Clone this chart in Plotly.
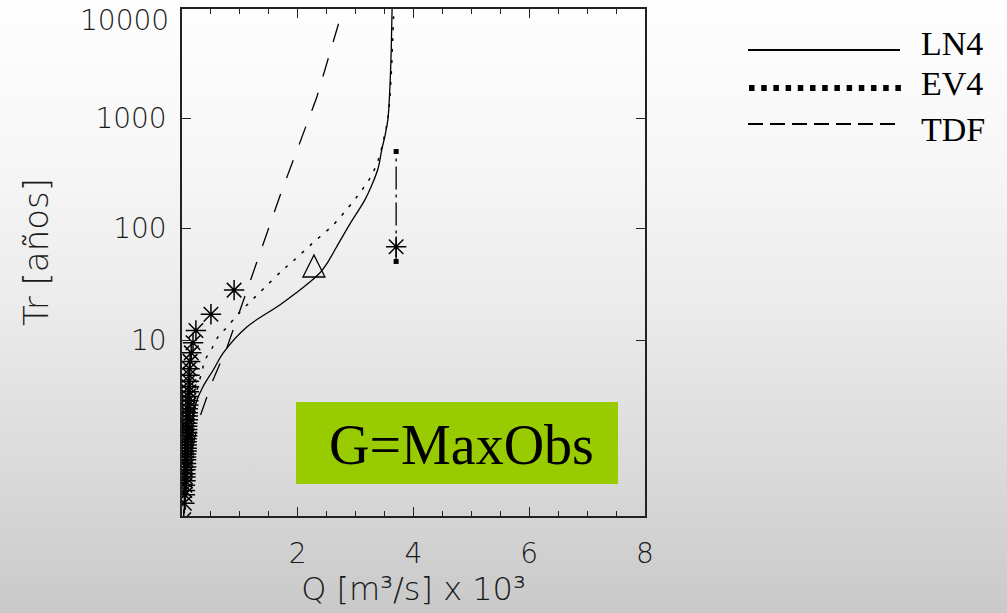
import base64
import numpy as np
import plotly.graph_objects as go

# ---------------- data (Q in 10^3 m3/s, Tr in years) ----------------
ln4_T = [1.024, 1.25, 1.99, 3.22, 4.06, 5.57, 7.73, 13.0, 20.3, 26.0, 32.6, 39.3, 49.4, 66.2, 109, 181, 247, 354, 516, 707, 1010, 1820, 3420, 10000]
ln4_Q = [0.05, 0.09, 0.14, 0.26, 0.36, 0.54, 0.71, 1.12, 1.69, 1.97, 2.21, 2.38, 2.52, 2.66, 2.90, 3.16, 3.28, 3.39, 3.45, 3.51, 3.56, 3.59, 3.61, 3.63]

ev4_T = [1.024, 1.53, 2.72, 3.84, 5.57, 6.75, 8.53, 10.6, 13.0, 17.6, 22.5, 28.8, 41.9, 50.5, 73.5, 107, 156, 209, 287, 418, 664, 1030, 2250, 5200, 10000]
ev4_Q = [0.05, 0.10, 0.17, 0.26, 0.35, 0.40, 0.52, 0.62, 0.78, 1.00, 1.21, 1.42, 1.74, 1.92, 2.26, 2.61, 2.88, 3.07, 3.25, 3.39, 3.49, 3.56, 3.61, 3.64, 3.66]

tdf_T = [1.53, 2.31, 4.44, 8.7, 209, 1570, 10000]
tdf_Q = [0.17, 0.29, 0.52, 0.78, 1.71, 2.33, 2.78]

obs_T = [27.6, 16.8, 12.1, 9.46, 7.76, 6.57, 5.70, 5.04, 4.51, 4.08, 3.73, 3.43, 3.18, 2.96,
         2.77, 2.60, 2.46, 2.32, 2.20, 2.10, 2.00, 1.91, 1.83, 1.76, 1.69, 1.62, 1.56, 1.51,
         1.46, 1.41, 1.37, 1.32, 1.28, 1.25, 1.21, 1.18, 1.15, 1.12, 1.09, 1.07, 1.04, 1.01]
obs_Q = [0.90, 0.50, 0.24, 0.19, 0.16, 0.14, 0.13, 0.13, 0.12, 0.12, 0.12, 0.11, 0.11, 0.11,
         0.10, 0.10, 0.10, 0.10, 0.09, 0.09, 0.09, 0.09, 0.09, 0.08, 0.08, 0.08, 0.08, 0.08,
         0.07, 0.07, 0.07, 0.07, 0.07, 0.06, 0.06, 0.06, 0.06, 0.05, 0.05, 0.05, 0.04, 0.03]

maxobs_Q = [3.70]
maxobs_T = [68]
maxobs_T_lo = [50]
maxobs_T_hi = [500]

tri_Q = [2.28]
tri_T = [45.5]

y_tick_T = [10, 100, 1000]
y_tick_text = ["10", "100", "1000"]
top_tick_text = "10000"
x_tick_vals = [2, 4, 6, 8]

legend_names = ["LN4", "EV4", "TDF"]
box_text = "G=MaxObs"
x_title = "Q [m³/s] x 10³"
y_title = "Tr [años]"


def gumbel(T):
    T = np.asarray(T, dtype=float)
    return -np.log(-np.log(1.0 - 1.0 / T))


# ---------------- geometry helpers (layout, pixels -> paper) ----------------
W, H = 1007, 613
L, R, TOP, BOT = 182, 645, 9, 516
PW, PH = R - L, BOT - TOP


def px(x):
    return (x - L) / PW


def py(y):
    return (BOT - y) / PH


TICKFONT = dict(family="DejaVu Sans", size=28, color="#1a1a1a", weight=200)
TITLEFONT = dict(family="DejaVu Sans", size=32, color="#1a1a1a", weight=200)
SERIF = "Liberation Serif"

fig = go.Figure()

fig.add_trace(go.Scatter(x=ln4_Q, y=gumbel(ln4_T), mode="lines",
                         line=dict(color="black", width=1.3, shape="spline", smoothing=1.0),
                         showlegend=False))
fig.add_trace(go.Scatter(x=ev4_Q, y=gumbel(ev4_T), mode="lines",
                         line=dict(color="black", width=1.5, dash="3px,8px", shape="spline", smoothing=1.0),
                         showlegend=False))
fig.add_trace(go.Scatter(x=tdf_Q, y=gumbel(tdf_T), mode="lines",
                         line=dict(color="black", width=1.3, dash="19px,17px"),
                         showlegend=False))
fig.add_trace(go.Scatter(x=obs_Q, y=gumbel(obs_T), mode="markers",
                         marker=dict(symbol="asterisk-open", size=17, color="black",
                                     line=dict(color="black", width=1.5)),
                         showlegend=False))
# max observed with its interval
fig.add_trace(go.Scatter(x=[maxobs_Q[0], maxobs_Q[0]],
                         y=gumbel([maxobs_T_lo[0], maxobs_T_hi[0]]),
                         mode="lines+markers",
                         line=dict(color="black", width=1.3, dash="23px,5px,3px,5px"),
                         marker=dict(symbol="square", size=5, color="black"),
                         showlegend=False))
fig.add_trace(go.Scatter(x=maxobs_Q, y=gumbel(maxobs_T), mode="markers",
                         marker=dict(symbol="asterisk-open", size=17, color="black",
                                     line=dict(color="black", width=1.5)),
                         showlegend=False))

shapes = []
# triangle marker (pixel-sized, anchored at the data point)
shapes.append(dict(type="path", xref="x", yref="y", xsizemode="pixel", ysizemode="pixel",
                   xanchor=tri_Q[0], yanchor=float(gumbel(tri_T)[0]),
                   path="M -11,-11 L 11,-11 L 0,11 Z",
                   line=dict(color="black", width=1.3)))
# green box
shapes.append(dict(type="rect", xref="paper", yref="paper",
                   x0=px(296), x1=px(618), y0=py(484), y1=py(402),
                   fillcolor="#99CC00", line=dict(width=0), layer="above"))
# legend lines
shapes.append(dict(type="line", xref="paper", yref="paper", x0=px(748), x1=px(900), y0=py(50), y1=py(50),
                   line=dict(color="black", width=2)))
shapes.append(dict(type="line", xref="paper", yref="paper", x0=px(749), x1=px(902), y0=py(88), y1=py(88),
                   line=dict(color="black", width=6, dash="5.5px,6.7px")))
shapes.append(dict(type="line", xref="paper", yref="paper", x0=px(748), x1=px(902), y0=py(124), y1=py(124),
                   line=dict(color="black", width=2, dash="15px,7px")))

annotations = []
for name, yc in zip(legend_names, [43, 84, 129]):
    annotations.append(dict(text=name, xref="paper", yref="paper", x=px(920), y=py(yc),
                            xanchor="left", yanchor="middle", showarrow=False, borderpad=0,
                            font=dict(family=SERIF, size=34, color="black")))
annotations.append(dict(text=box_text, xref="paper", yref="paper", x=px(461), y=py(445),
                        xanchor="center", yanchor="middle", showarrow=False,
                        font=dict(family=SERIF, size=56, color="black")))
annotations.append(dict(text=top_tick_text, xref="paper", yref="paper", x=px(171), y=py(20),
                        xanchor="right", yanchor="middle", showarrow=False, font=TICKFONT))
annotations.append(dict(text=y_title, xref="paper", yref="paper", x=px(36), y=py(252),
                        xanchor="center", yanchor="middle", textangle=-90, showarrow=False,
                        font=dict(family="DejaVu Sans", size=34, color="#1a1a1a", weight=200)))

# background gradient (whole page)
svg = ('<svg xmlns="http://www.w3.org/2000/svg" width="1007" height="613" preserveAspectRatio="none">'
       '<defs><linearGradient id="g" x1="0" y1="0" x2="0" y2="1">'
       '<stop offset="0" stop-color="#fefefe"/><stop offset="0.25" stop-color="#f7f7f7"/>'
       '<stop offset="0.5" stop-color="#ebebeb"/><stop offset="0.75" stop-color="#dbdbdb"/>'
       '<stop offset="1" stop-color="#c9c9c9"/></linearGradient></defs>'
       '<rect width="1007" height="613" fill="url(#g)"/></svg>')
src = "data:image/svg+xml;base64," + base64.b64encode(svg.encode()).decode()

fig.update_layout(
    width=W, height=H,
    margin=dict(l=L, r=W - R, t=TOP, b=H - BOT, autoexpand=False),
    paper_bgcolor="rgba(0,0,0,0)", plot_bgcolor="rgba(0,0,0,0)",
    images=[dict(source=src, xref="paper", yref="paper", x=px(0), y=py(0),
                 sizex=W / PW, sizey=H / PH, xanchor="left", yanchor="top",
                 sizing="stretch", layer="below")],
    shapes=shapes, annotations=annotations,
    xaxis=dict(range=[0, 8], tickvals=x_tick_vals, ticks="inside", ticklen=9, tickwidth=1.3,
               tickcolor="#222222", showline=True, linecolor="#222222", linewidth=1.5,
               mirror="ticks", showgrid=False, zeroline=False, tickfont=TICKFONT,
               ticklabelstandoff=12,
               minor=dict(dtick=0.5, ticks="inside", ticklen=5, tickwidth=1.2, tickcolor="#222222",
                          showgrid=False),
               title=dict(text=x_title, font=TITLEFONT, standoff=6)),
    yaxis=dict(range=[-1.45, float(gumbel([10000])[0])], tickvals=gumbel(y_tick_T), ticktext=y_tick_text,
               ticks="inside", ticklen=9, tickwidth=1.3, tickcolor="#222222",
               showline=True, linecolor="#222222", linewidth=1.5, mirror="ticks",
               showgrid=False, zeroline=False, tickfont=TICKFONT, ticklabelstandoff=8),
)

fig.write_html("out.html")
